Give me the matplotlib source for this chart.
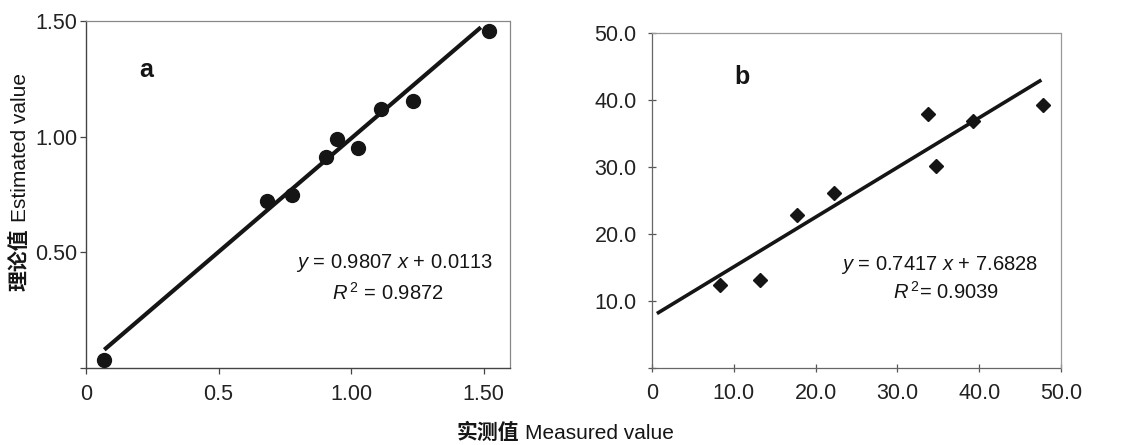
import matplotlib
matplotlib.use("Agg")
import matplotlib.pyplot as plt

# ---------------- data ----------------
a_measured = [0.067, 0.682, 0.779, 0.905, 0.949, 1.028, 1.112, 1.235, 1.520]
a_estimated = [0.035, 0.722, 0.747, 0.914, 0.989, 0.953, 1.121, 1.153, 1.457]
a_slope, a_intercept = 0.9807, 0.0113
a_fit_range = [0.069, 1.49]
a_eq = r"$y$ = 0.9807 $x$ + 0.0113"
a_r2 = r"$R^{\,2}$ = 0.9872"
a_xticks = [0, 0.5, 1.0, 1.5]
a_xticklabels = ["0", "0.5", "1.00", "1.50"]
a_yticks = [0, 0.5, 1.0, 1.5]
a_yticklabels = ["", "0.50", "1.00", "1.50"]

b_measured = [8.35, 13.15, 17.7, 22.2, 33.8, 34.7, 39.3, 47.8]
b_estimated = [12.4, 13.2, 22.9, 26.1, 37.9, 30.2, 36.8, 39.2]
b_slope, b_intercept = 0.7417, 7.6828
b_fit_range = [0.6, 47.6]
b_eq = r"$y$ = 0.7417 $x$ + 7.6828"
b_r2 = r"$R^{\,2}$= 0.9039"
b_xticks = [0, 10, 20, 30, 40, 50]
b_xticklabels = ["0", "10.0", "20.0", "30.0", "40.0", "50.0"]
b_yticks = [0, 10, 20, 30, 40, 50]
b_yticklabels = ["", "10.0", "20.0", "30.0", "40.0", "50.0"]

ylabel_cn, ylabel_en = "理论值", "Estimated value"
xlabel_cn, xlabel_en = "实测值", "Measured value"

# ---------------- style ----------------
plt.rcParams["font.family"] = ["Liberation Sans", "Noto Sans CJK SC", "DejaVu Sans"]
plt.rcParams["mathtext.fontset"] = "custom"
plt.rcParams["mathtext.rm"] = "Liberation Sans"
plt.rcParams["mathtext.it"] = "Liberation Sans:italic"
plt.rcParams["mathtext.bf"] = "Liberation Sans:bold"

INK = "#151515"
W, H = 1130, 445
fig = plt.figure(figsize=(W / 100, H / 100), dpi=100)
fig.patch.set_facecolor("white")

def px_axes(l, t, r, b):
    return fig.add_axes([l / W, 1 - b / H, (r - l) / W, (b - t) / H])

ax1 = px_axes(86, 21, 510, 368)
ax2 = px_axes(652, 33, 1061, 368)

# panel a
ax1.plot(a_measured, a_estimated, "o", color=INK, ms=10, zorder=3)
ax1.plot(a_fit_range, [a_slope * x + a_intercept for x in a_fit_range],
         "-", color=INK, lw=3.0, solid_capstyle="butt", zorder=2)
ax1.set_xlim(0, 1.6)
ax1.set_ylim(0, 1.5)
ax1.set_xticks(a_xticks, a_xticklabels)
ax1.set_yticks(a_yticks, a_yticklabels)
ax1.tick_params(axis="both", direction="out", length=4.5, width=0.9,
                color="#444", labelsize=15.5, labelcolor="#222")
ax1.tick_params(axis="x", pad=7)
ax1.tick_params(axis="y", pad=1.5)
for s in ("left", "bottom"):
    ax1.spines[s].set_color("#444")
    ax1.spines[s].set_linewidth(1.0)
for s in ("top", "right"):
    ax1.spines[s].set_color("#888")
    ax1.spines[s].set_linewidth(0.9)
    ax1.spines[s].set_linestyle((0, (1.5, 1)))
ax1.text(0.226, 1.29, "a", fontsize=18, fontweight="bold", color=INK,
         ha="center", va="center")
ax1.text(1.165, 0.454, a_eq, fontsize=14.5, color=INK, ha="center", va="center")
ax1.text(1.14, 0.324, a_r2, fontsize=14.5, color=INK, ha="center", va="center")

# panel b
ax2.plot(b_measured, b_estimated, "D", color=INK, ms=7.5, zorder=3)
ax2.plot(b_fit_range, [b_slope * x + b_intercept for x in b_fit_range],
         "-", color=INK, lw=2.6, solid_capstyle="butt", zorder=2)
ax2.set_xlim(0, 50)
ax2.set_ylim(0, 50)
ax2.set_xticks(b_xticks, b_xticklabels)
ax2.set_yticks(b_yticks, b_yticklabels)
ax2.tick_params(axis="both", direction="inout", length=6, width=0.9,
                color="#555", labelsize=15.5, labelcolor="#222")
ax2.tick_params(axis="x", pad=8)
ax2.tick_params(axis="y", pad=8)
for s in ("left", "bottom", "top", "right"):
    ax2.spines[s].set_color("#666" if s in ("left", "bottom") else "#999")
    ax2.spines[s].set_linewidth(0.9)
    ax2.spines[s].set_linestyle((0, (1.5, 1)))
ax2.text(11.0, 43.5, "b", fontsize=18, fontweight="bold", color=INK,
         ha="center", va="center")
ax2.text(35.1, 15.4, b_eq, fontsize=14.5, color=INK, ha="center", va="center")
ax2.text(36.0, 11.3, b_r2, fontsize=14.5, color=INK, ha="center", va="center")

# ---------------- axis titles (bold CJK + regular Latin) ----------------
fig.canvas.draw()
rend = fig.canvas.get_renderer()
gap = 6  # px

# y label (rotated)
yx = 26 / W
ty1 = fig.text(yx, 0.5, ylabel_cn, fontsize=15, fontweight="bold",
               family=["Noto Sans CJK SC"], rotation=90, rotation_mode="anchor",
               ha="left", va="baseline", color=INK)
ty2 = fig.text(yx, 0.5, ylabel_en, fontsize=15, rotation=90, rotation_mode="anchor",
               ha="left", va="baseline", color=INK)
h1 = ty1.get_window_extent(rend).height
h2 = ty2.get_window_extent(rend).height
yc = H - 182
y0 = yc - (h1 + gap + h2) / 2
ty1.set_position((yx, y0 / H))
ty2.set_position((yx, (y0 + h1 + gap) / H))

# x label
xy = 1 - 439 / H
tx1 = fig.text(0.5, xy, xlabel_cn, fontsize=15, fontweight="bold",
               family=["Noto Sans CJK SC"], ha="left", va="baseline", color=INK)
tx2 = fig.text(0.5, xy, xlabel_en, fontsize=15, ha="left", va="baseline", color=INK)
w1 = tx1.get_window_extent(rend).width
w2 = tx2.get_window_extent(rend).width
xc = 565
x0 = xc - (w1 + gap + w2) / 2
tx1.set_position((x0 / W, xy))
tx2.set_position(((x0 + w1 + gap) / W, xy))

fig.savefig("out.png", dpi=100, facecolor="white")
